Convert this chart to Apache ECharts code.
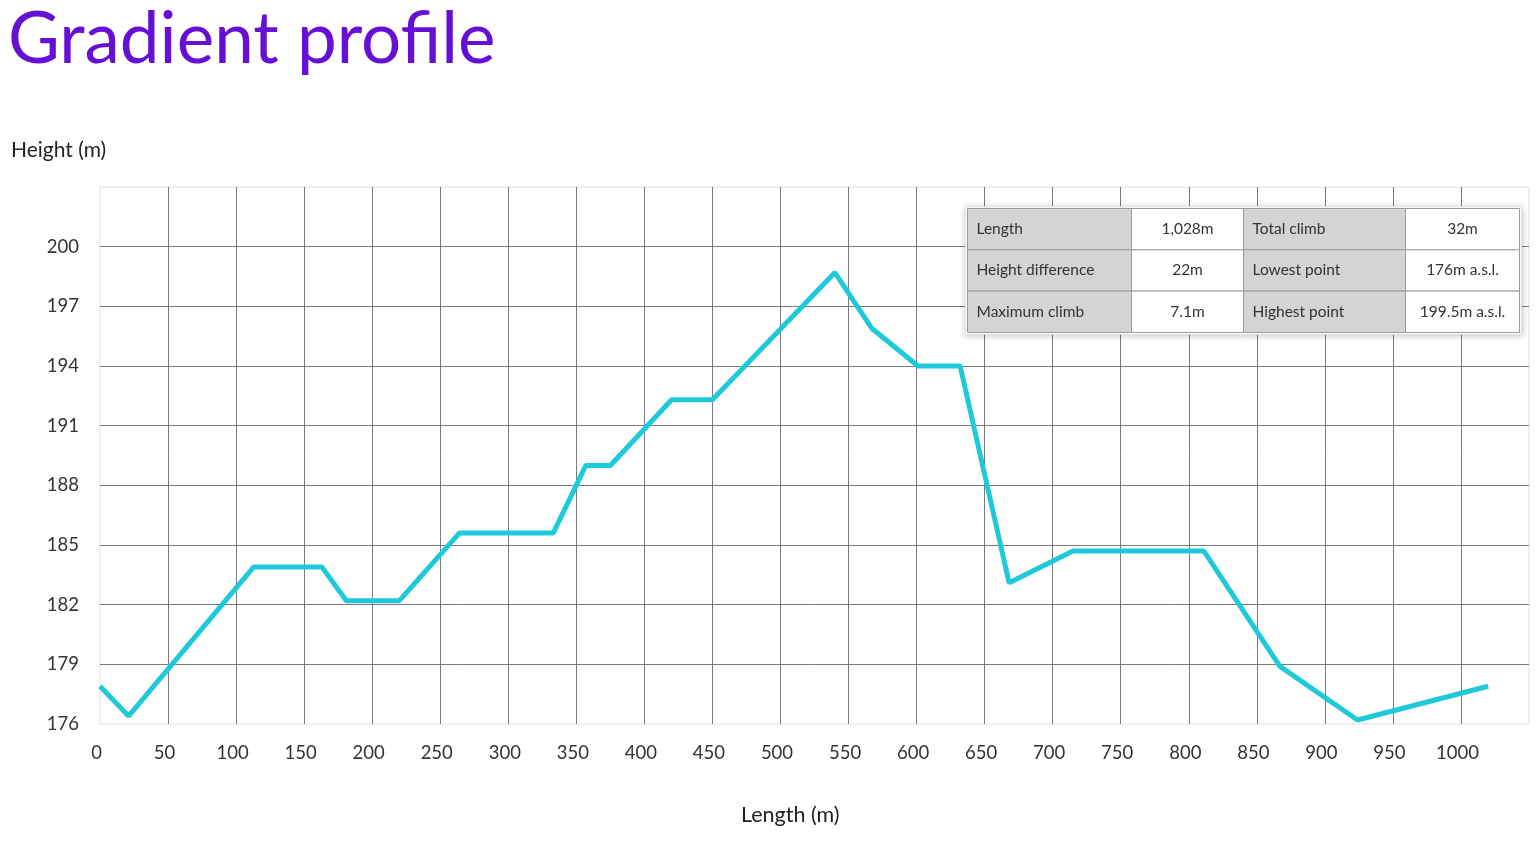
<!DOCTYPE html>
<html>
<head>
<meta charset="utf-8">
<title>Gradient profile</title>
<script src="https://cdn.jsdelivr.net/npm/echarts@6/dist/echarts.min.js"></script>
<style>
  html, body { margin: 0; padding: 0; background: #fff; }
  #chart { width: 1540px; height: 846px; }
</style>
</head>
<body>
<div id="chart"></div>
<script>
// profile points: distance along route (m) and height (m)
var distances = [0, 21, 113, 163, 181, 220, 264, 333, 357, 375, 420, 450, 540, 567, 601, 632, 668, 715, 811, 867, 924, 1020];
var heights = [177.9, 176.4, 183.9, 183.9, 182.2, 182.2, 185.6, 185.6, 189.0, 189.0, 192.3, 192.3, 198.7, 195.9, 194.0, 194.0, 183.1, 184.7, 184.7, 178.9, 176.2, 177.9];

// summary table
var statLabelsLeft = ["Length", "Height difference", "Maximum climb"];
var statValuesLeft = ["1,028m", "22m", "7.1m"];
var statLabelsRight = ["Total climb", "Lowest point", "Highest point"];
var statValuesRight = ["32m", "176m a.s.l.", "199.5m a.s.l."];

var FONT = "Lato, 'Noto Sans', sans-serif";

var chart = echarts.init(document.getElementById("chart"));

var points = [];
for (var i = 0; i < distances.length; i++) {
  points.push([distances[i], heights[i]]);
}

// build the table as graphic elements (z on every child, group z does not carry down)
function buildTable() {
  var colW = [164, 112, 162, 114];
  var rowH = 41.3;
  var children = [];
  var cols = [statLabelsLeft, statValuesLeft, statLabelsRight, statValuesRight];
  var x = 0;
  for (var c = 0; c < cols.length; c++) {
    var isLabel = (c % 2 === 0);
    for (var r = 0; r < cols[c].length; r++) {
      children.push({
        type: "rect",
        z: 101,
        shape: { x: x, y: r * rowH, width: colW[c], height: rowH },
        style: { fill: isLabel ? "#d4d4d4" : "#ffffff", stroke: "#9a9a9a", lineWidth: 1 }
      });
      children.push({
        type: "text",
        z: 102,
        x: isLabel ? x + 9 : x + colW[c] / 2,
        y: r * rowH + rowH / 2,
        style: {
          text: cols[c][r],
          fill: "#333",
          font: "15.5px " + FONT,
          align: isLabel ? "left" : "center",
          verticalAlign: "middle"
        }
      });
    }
    x += colW[c];
  }
  return {
    type: "group",
    left: 965,
    top: 206,
    z: 100,
    children: [{
      type: "rect",
      z: 100,
      shape: { x: -2, y: -2, width: x + 4, height: rowH * 3 + 4 },
      style: { fill: "#fff", stroke: "#e6e6e6", shadowBlur: 6, shadowColor: "rgba(0,0,0,0.25)", shadowOffsetY: 1 }
    }].concat(children)
  };
}

var option = {
  backgroundColor: "#fff",
  animation: false,
  title: {
    text: "Gradient profile",
    left: 3,
    top: 0,
    textStyle: { color: "#6610d6", fontSize: 71, fontWeight: "normal", fontFamily: FONT }
  },
  grid: {
    left: 100,
    right: 11,
    top: 187,
    bottom: 122,
    show: true,
    borderColor: "#e0e0e0",
    borderWidth: 1,
    containLabel: false
  },
  graphic: [
    {
      type: "text",
      left: 11,
      top: 140,
      style: { text: "Height (m)", fill: "#222", font: "21px " + FONT }
    },
    {
      type: "text",
      left: 741,
      top: 804,
      style: { text: "Length (m)", fill: "#222", font: "21.5px " + FONT }
    },
    buildTable()
  ],
  xAxis: {
    type: "value",
    min: 0,
    max: 1050,
    interval: 50,
    axisLine: { show: false },
    axisTick: { show: false },
    axisLabel: {
      color: "#333",
      fontSize: 18.5,
      fontFamily: FONT,
      margin: 20,
      showMaxLabel: false,
      formatter: function (v) { return String(v); },
      padding: [0, 7, 0, 0]
    },
    splitLine: { show: true, showMinLine: false, showMaxLine: false, lineStyle: { color: "#7a7a7a", width: 1 } }
  },
  yAxis: {
    type: "value",
    min: 176,
    max: 203,
    interval: 3,
    axisLine: { show: false },
    axisTick: { show: false },
    axisLabel: {
      color: "#333",
      fontSize: 18.5,
      fontFamily: FONT,
      margin: 21,
      showMaxLabel: false
    },
    splitLine: { show: true, showMinLine: false, showMaxLine: false, lineStyle: { color: "#7a7a7a", width: 1 } }
  },
  series: [{
    type: "line",
    data: points,
    symbol: "none",
    lineStyle: { color: "#1ec9d9", width: 5 },
    z: 5
  }]
};

chart.setOption(option);
</script>
</body>
</html>
